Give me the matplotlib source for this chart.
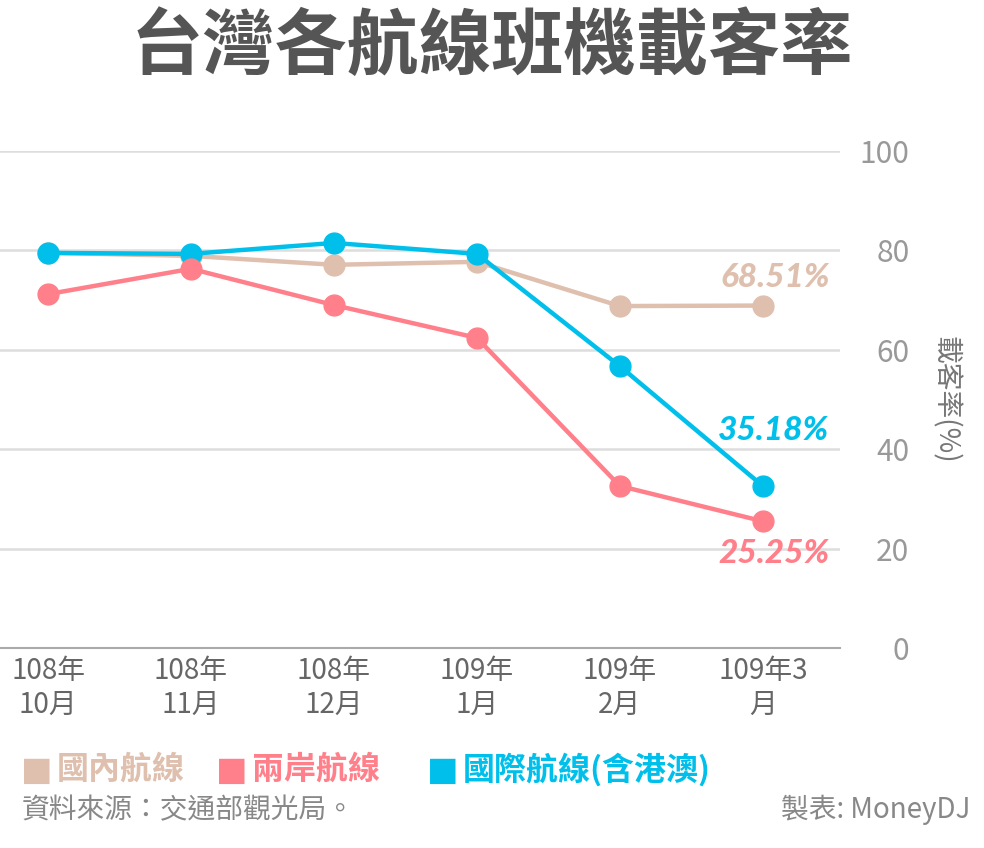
import matplotlib
matplotlib.use('Agg')
from matplotlib import pyplot as plt

plt.rcParams['font.family'] = ['Noto Sans CJK TC', 'DejaVu Sans']

months = ['108年\n10月', '108年\n11月', '108年\n12月', '109年\n1月', '109年\n2月', '109年3\n月']
domestic = [79.5, 78.9, 77.1, 77.7, 68.8, 68.9]
strait = [71.2, 76.3, 69.0, 62.4, 32.6, 25.5]
international = [79.5, 79.3, 81.5, 79.3, 56.7, 32.6]
lastLabels = ['68.51%', '25.25%', '35.18%']
seriesNames = ['國內航線', '兩岸航線', '國際航線(含港澳)']
yTicks = [0, 20, 40, 60, 80, 100]

tan = '#DFBFAD'
pink = '#FF808A'
blue = '#00C0EB'

fig = plt.figure(figsize=(9.84, 8.48), dpi=100)
ax = fig.add_axes([0.0, 1 - 648 / 848, 840 / 984, (648 - 151) / 848])

x = list(range(len(months)))
ax.plot(x, domestic, color=tan, lw=3.2, marker='o', ms=15, zorder=3)
ax.plot(x, international, color=blue, lw=3.2, marker='o', ms=15, zorder=4)
ax.plot(x, strait, color=pink, lw=3.2, marker='o', ms=15, zorder=5)

ax.set_xlim(-0.336, 5.54)
ax.set_ylim(0, 100)
ax.set_yticks(yTicks)
ax.yaxis.tick_right()
ax.tick_params(axis='y', length=0, pad=50, labelsize=21.5, labelcolor='#999999')
for lab in ax.get_yticklabels():
    lab.set_ha('right')
ax.set_xticks(x)
ax.set_xticklabels(months, linespacing=1.15)
ax.tick_params(axis='x', length=0, pad=6, labelsize=20, labelcolor='#666666')
ax.grid(axis='y', color='#DDDDDD', lw=1.8)
ax.set_axisbelow(True)
for side in ['top', 'left', 'right']:
    ax.spines[side].set_visible(False)
ax.spines['bottom'].set_color('#AAAAAA')
ax.spines['bottom'].set_linewidth(1.5)

labelFont = dict(family=['Lato', 'DejaVu Sans'], style='italic', weight='black', size=24, ha='right', va='center')
ax.annotate(lastLabels[0], (5, domestic[-1]), xytext=(48, 20), textcoords='offset points', color=tan, **labelFont)
ax.annotate(lastLabels[2], (5, international[-1]), xytext=(48, 40), textcoords='offset points', color=blue, **labelFont)
ax.annotate(lastLabels[1], (5, strait[-1]), xytext=(48, -23), textcoords='offset points', color=pink, **labelFont)

fig.text(0.96, 1 - 400 / 848, '載客率(%)', rotation=270, ha='center', va='center', fontsize=20, color='#777777')

fig.text(0.5, 1 - 48 / 848, '台灣各航線班機載客率', ha='center', va='center', fontsize=52, weight='bold', color='#555555')

# legend drawn as text rows
legendX = [21, 216, 427]
for lx, name, col in zip(legendX, seriesNames, [tan, pink, blue]):
    fig.text(lx / 984, 1 - 770 / 848, '■', ha='left', va='center', fontsize=24, color=col,
             family=['DejaVu Sans'])
    fig.text((lx + 36) / 984, 1 - 770 / 848, name, ha='left', va='center', fontsize=23, weight='bold', color=col)

fig.text(22 / 984, 1 - 810 / 848, '資料來源：交通部觀光局。', ha='left', va='center', fontsize=20, color='#888888')
fig.text(970 / 984, 1 - 810 / 848, '製表: MoneyDJ', ha='right', va='center', fontsize=20, color='#888888')

fig.savefig('out.png', dpi=100)
